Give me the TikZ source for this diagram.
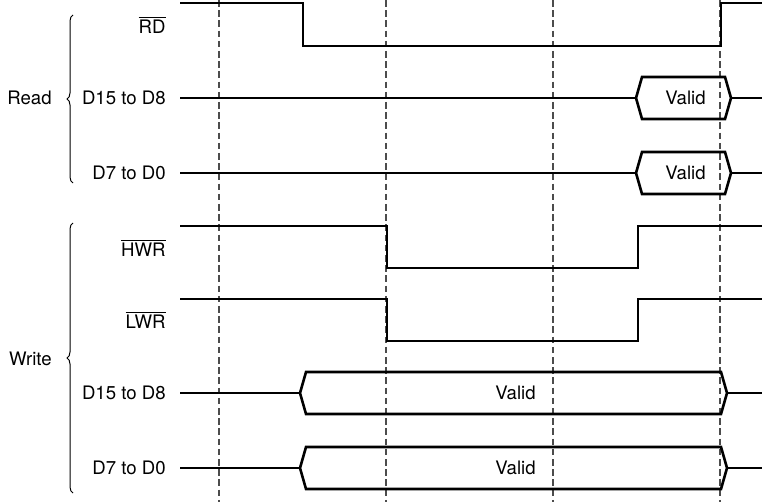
\documentclass[tikz,border=0pt]{standalone}
\usepackage{fontspec}
\setmainfont{TeX Gyre Heros}
\usetikzlibrary{decorations.pathreplacing}
\tikzset{
  sig/.style={line width=1.3pt,line join=miter},
  tick/.style={gray!60!black,line width=0.6pt,dash pattern=on 3.3pt off 1.8pt},
  lbl/.style={anchor=east,inner sep=0pt},
  grp/.style={decorate,decoration={brace,amplitude=3pt},line width=0.5pt},
}
\begin{document}
\begin{tikzpicture}[x=0.5pt,y=-0.5pt,font=\fontsize{9.3}{11}\selectfont]
 \useasboundingbox (0,0) rectangle (770,502);
 % time marks
 \foreach \t in {219,386,553,720} \draw[tick] (\t,0)--(\t,502);
 % signal names
 \node[lbl] (rd) at (166,25) {$\overline{\mbox{RD}}$};
 \node[lbl] (rhi) at (166,98) {D15 to D8};
 \node[lbl] (rlo) at (166,173) {D7 to D0};
 \node[lbl] (hwr) at (166,248) {$\overline{\mbox{HWR}}$};
 \node[lbl] (lwr) at (166,320) {$\overline{\mbox{LWR}}$};
 \node[lbl] (whi) at (166,393) {D15 to D8};
 \node[lbl] (wlo) at (166,468) {D7 to D0};
 % groups
 \draw[grp] (73,183)--(73,15);
 \node[lbl] (rdgrp) at (52,98) {Read};
 \draw[grp] (73,493)--(73,223);
 \node[lbl] (wrgrp) at (52,359) {Write};
 % strobes
 \draw[sig] (180,3)--(303,3)--(303,46)--(721,46)--(721,3)--(762,3);
 \draw[sig] (180,226)--(387,226)--(387,268)--(638,268)--(638,226)--(762,226);
 \draw[sig] (180,299)--(387,299)--(387,341)--(638,341)--(638,299)--(762,299);
 % data buses
 \foreach \y/\a/\b/\n in {98/636/731/rv1,173/636/731/rv2,393/300/727/wv1,468/300/727/wv2}{
  \draw[sig] (180,\y)--(\a,\y);
  \draw[sig] (\a,\y)--(\a+6,\y-21)--(\b-6,\y-21)--(\b,\y)--(\b-6,\y+21)--(\a+6,\y+21)--cycle;
  \draw[sig] (\b,\y)--(762,\y);
  \node (\n) at ({(\a+\b)/2+2},\y) {Valid};
 }
\end{tikzpicture}
\end{document}
